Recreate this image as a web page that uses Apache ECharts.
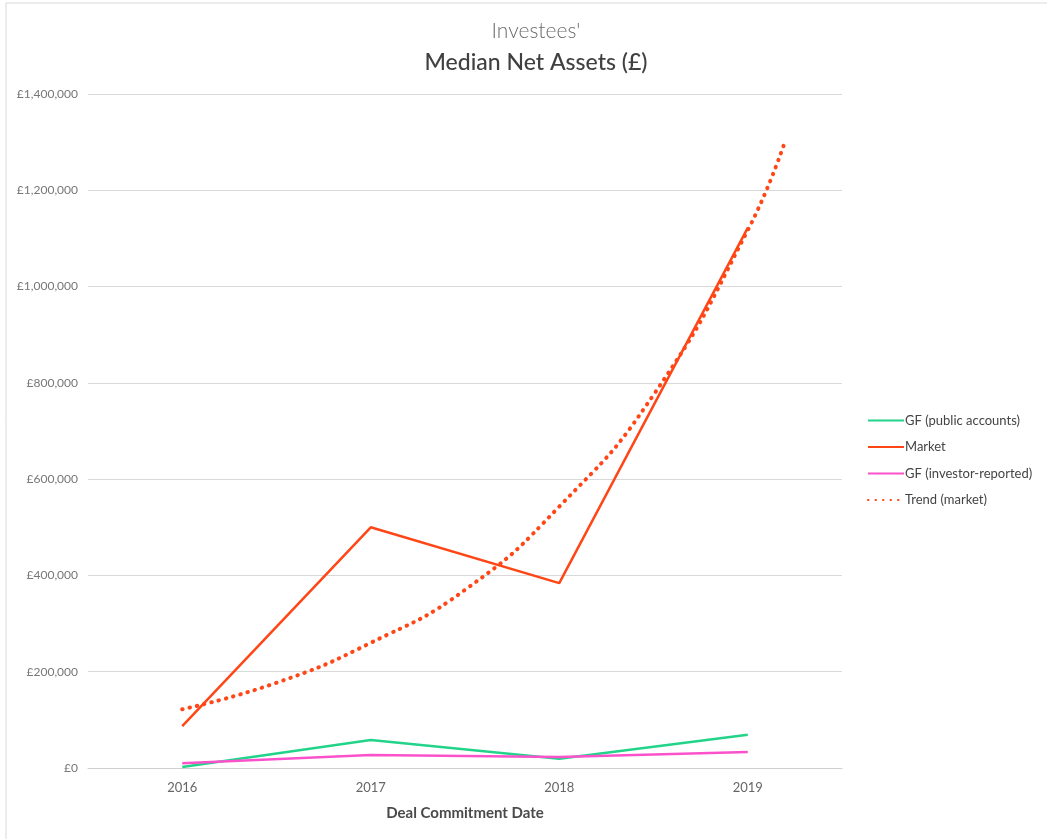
<!DOCTYPE html>
<html>
<head>
<meta charset="utf-8">
<script src="https://cdn.jsdelivr.net/npm/echarts@6/dist/echarts.min.js"></script>
<style>
  html, body { margin: 0; padding: 0; background: #fff; }
  #chart { width: 1047px; height: 839px; }
</style>
</head>
<body>
<div id="chart"></div>
<script>
// Deal commitment years
const years = ['2016', '2017', '2018', '2019'];

// Median net assets (£) per year
const gfPublic = [2000, 58000, 19000, 69000];
const market = [87000, 500000, 384000, 1122000];
const gfInvestor = [10000, 27000, 23000, 33000];

// Market trend curve, sampled as [year position, value]; runs a little past 2019
const trendMarket = [
  [0, 122000], [0.5, 177000], [1, 260000], [1.5, 370000],
  [2, 543000], [2.5, 775000], [3, 1117000], [3.2, 1304000]
];

const yTicks = { min: 0, max: 1400000, interval: 200000 };

const FONT = 'Lato, "Open Sans", sans-serif';

const chart = echarts.init(document.getElementById('chart'), null, { renderer: 'canvas' });

const fmtPound = v => '£' + v.toLocaleString('en-GB');

chart.setOption({
  backgroundColor: '#ffffff',
  animation: false,
  graphic: [{
    type: 'rect',
    shape: { x: 6, y: 3, width: 1100, height: 900 },
    style: { fill: 'none', stroke: '#d9d9d9', lineWidth: 1 },
    silent: true
  }],
  title: [{
    text: "Investees'",
    left: 531, top: 16, textAlign: 'center',
    textStyle: { fontFamily: FONT, fontSize: 21, fontWeight: 300, color: '#6b6b6b' }
  }, {
    text: 'Median Net Assets (£)',
    left: 531, top: 46, textAlign: 'center',
    textStyle: { fontFamily: FONT, fontSize: 23, fontWeight: 500, color: '#404040' }
  }],
  legend: {
    orient: 'vertical',
    left: 862, top: 409,
    itemWidth: 36, itemHeight: 14, itemGap: 13.5,
    itemStyle: { opacity: 0 },
    textStyle: { fontFamily: FONT, fontSize: 13, color: '#444', padding: [0, 0, 0, -4] },
    data: ['GF (public accounts)', 'Market', 'GF (investor-reported)', 'Trend (market)']
  },
  grid: { left: 88, right: 205, top: 94, bottom: 71, containLabel: false },
  xAxis: [{
    type: 'category',
    data: years,
    boundaryGap: true,
    axisLine: { lineStyle: { color: '#cfcfcf', width: 1 } },
    axisTick: { show: false },
    axisLabel: { fontFamily: FONT, fontSize: 13, color: '#666', margin: 13 },
    name: 'Deal Commitment Date',
    nameLocation: 'middle',
    nameGap: 38,
    nameTextStyle: { fontFamily: FONT, fontSize: 15, fontWeight: 'bold', color: '#4a4a4a' }
  }, {
    type: 'value',
    min: -0.5, max: 3.5,
    show: false
  }],
  yAxis: {
    type: 'value',
    min: yTicks.min, max: yTicks.max, interval: yTicks.interval,
    axisLine: { show: false },
    axisTick: { show: false },
    splitLine: { lineStyle: { color: '#d9d9d9', width: 1 } },
    axisLabel: { fontFamily: FONT, fontSize: 12, color: '#777', margin: 10, formatter: fmtPound }
  },
  series: [{
    name: 'GF (public accounts)',
    type: 'line',
    data: gfPublic,
    symbol: 'none',
    color: '#22d48a',
    lineStyle: { width: 2.5, color: '#22d48a' }
  }, {
    name: 'Market',
    type: 'line',
    data: market,
    symbol: 'none',
    color: '#ff4616',
    lineStyle: { width: 2.5, color: '#ff4616' }
  }, {
    name: 'GF (investor-reported)',
    type: 'line',
    data: gfInvestor,
    symbol: 'none',
    color: '#fb52cc',
    lineStyle: { width: 2.5, color: '#fb52cc' }
  }, {
    name: 'Trend (market)',
    type: 'line',
    xAxisIndex: 1,
    data: trendMarket,
    smooth: true,
    symbol: 'none',
    color: '#ff4616',
    lineStyle: { width: 4, color: '#ff4616', type: [0.5, 7], cap: 'round' }
  }]
});
</script>
</body>
</html>
